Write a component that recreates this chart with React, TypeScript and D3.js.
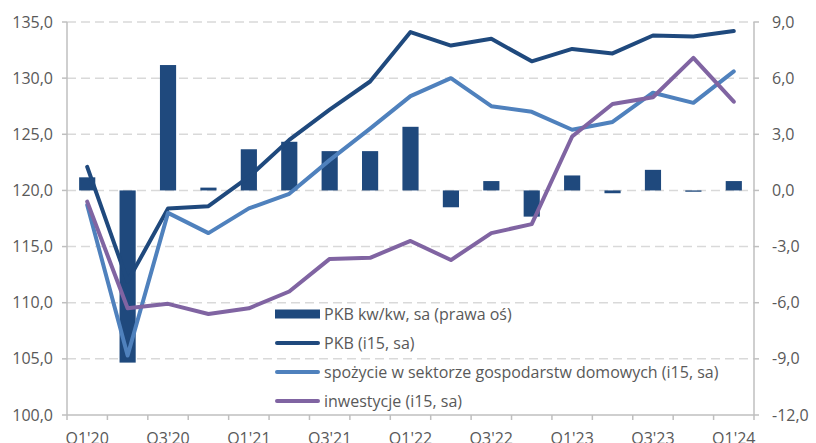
import React from "react";
import * as d3 from "d3";

const categories = ["Q1'20","Q2'20","Q3'20","Q4'20","Q1'21","Q2'21","Q3'21","Q4'21","Q1'22","Q2'22","Q3'22","Q4'22","Q1'23","Q2'23","Q3'23","Q4'23","Q1'24"];
const gdpQoQ = [0.7, -9.2, 6.7, 0.15, 2.2, 2.6, 2.1, 2.1, 3.4, -0.9, 0.5, -1.4, 0.8, -0.15, 1.1, -0.07, 0.5];
const gdpIndex = [122.1, 111.9, 118.4, 118.6, 121.2, 124.5, 127.2, 129.7, 134.1, 132.9, 133.5, 131.5, 132.6, 132.2, 133.8, 133.7, 134.2];
const consumption = [118.7, 105.3, 118.0, 116.2, 118.4, 119.7, 122.7, 125.5, 128.4, 130.0, 127.5, 127.0, 125.4, 126.1, 128.7, 127.8, 130.6];
const investment = [119.0, 109.5, 109.9, 109.0, 109.5, 111.0, 113.9, 114.0, 115.5, 113.8, 116.2, 117.0, 124.8, 127.7, 128.3, 131.8, 127.9];
const leftTicks = [100, 105, 110, 115, 120, 125, 130, 135];
const rightTicks = [-12, -9, -6, -3, 0, 3, 6, 9];
const legendLabels = ["PKB kw/kw, sa (prawa oś)", "PKB (i15, sa)", "spożycie w sektorze gospodarstw domowych (i15, sa)", "inwestycje (i15, sa)"];

const W = 816, H = 443;
const X0 = 67, X1 = 754, Y0 = 22, Y1 = 415;
const FONT = "'Open Sans', sans-serif";
const TXT = "#595959";
const C_BAR = "#1f497d";
const C_GDP = "#1f497d";
const C_CONS = "#4f81bd";
const C_INV = "#8064a2";

const fmt = (v: number) => v.toFixed(1).replace(".", ",");

export default function App() {
  const x = d3.scaleBand<string>().domain(categories).range([X0, X1]).paddingInner(0).paddingOuter(0);
  const yL = d3.scaleLinear().domain([100, 135]).range([Y1, Y0]);
  const yR = d3.scaleLinear().domain([-12, 9]).range([Y1, Y0]);
  const bw = x.bandwidth();
  const cx = (i: number) => (x(categories[i]) as number) + bw / 2;
  const line = d3.line<number>().x((_, i) => cx(i)).y((d) => yL(d));
  const barW = bw * 0.4;

  const series = [
    { data: gdpIndex, color: C_GDP },
    { data: consumption, color: C_CONS },
    { data: investment, color: C_INV },
  ];

  const boundaries = d3.range(categories.length + 1).map((i) => X0 + i * bw);

  const legendY = [314, 343, 372, 401];
  const legendColors = [C_BAR, C_GDP, C_CONS, C_INV];

  return (
    <svg width={W} height={H} style={{ display: "block", position: "absolute", left: 0, top: 0 }} fontFamily={FONT}>
      <rect width={W} height={H} fill="#fff" />
      {/* gridlines */}
      {leftTicks.filter((t) => t !== 100).map((t) => (
        <line key={t} x1={X0} x2={X1} y1={yL(t)} y2={yL(t)} stroke="#d9d9d9" strokeWidth={1.5} strokeDasharray="9,5" />
      ))}
      {/* bars */}
      {gdpQoQ.map((v, i) => (
        <rect key={i} x={cx(i) - barW / 2} width={barW} y={Math.min(yR(v), yR(0))} height={Math.abs(yR(v) - yR(0))} fill={C_BAR} />
      ))}
      {/* axes */}
      <line x1={X0} x2={X0} y1={Y0} y2={Y1} stroke="#bfbfbf" strokeWidth={1.5} />
      <line x1={X1} x2={X1} y1={Y0} y2={Y1} stroke="#bfbfbf" strokeWidth={1.5} />
      <line x1={X0} x2={X1} y1={Y1} y2={Y1} stroke="#bfbfbf" strokeWidth={1.5} />
      {leftTicks.map((t) => (
        <line key={"lt" + t} x1={X0 - 5} x2={X0} y1={yL(t)} y2={yL(t)} stroke="#bfbfbf" strokeWidth={1.5} />
      ))}
      {rightTicks.map((t) => (
        <line key={"rt" + t} x1={X1} x2={X1 + 5} y1={yR(t)} y2={yR(t)} stroke="#bfbfbf" strokeWidth={1.5} />
      ))}
      {boundaries.map((bx, i) => (
        <line key={"bt" + i} x1={bx} x2={bx} y1={Y1} y2={Y1 + 5} stroke="#bfbfbf" strokeWidth={1.5} />
      ))}
      {/* lines */}
      {series.map((s, k) => (
        <path key={k} d={line(s.data) as string} fill="none" stroke={s.color} strokeWidth={4} strokeLinejoin="round" strokeLinecap="round" />
      ))}
      {/* axis labels */}
      {leftTicks.map((t) => (
        <text key={"ll" + t} x={53} y={yL(t)} dy="0.35em" textAnchor="end" fontSize={16} fill={TXT}>{fmt(t)}</text>
      ))}
      {rightTicks.map((t) => (
        <text key={"rl" + t} x={772} y={yR(t)} dy="0.35em" textAnchor="start" fontSize={16} fill={TXT}>{fmt(t)}</text>
      ))}
      {categories.map((c, i) => i % 2 === 0 ? (
        <text key={"xl" + c} x={cx(i)} y={444} textAnchor="middle" fontSize={16} fill={TXT}>{c}</text>
      ) : null)}
      {/* legend */}
      {legendLabels.map((lab, i) => (
        <g key={"lg" + i}>
          {i === 0 ? (
            <rect x={275} y={legendY[i] - 4.5} width={45} height={9} fill={legendColors[i]} />
          ) : (
            <line x1={277} x2={318} y1={legendY[i]} y2={legendY[i]} stroke={legendColors[i]} strokeWidth={4} strokeLinecap="round" />
          )}
          <text x={324} y={legendY[i]} dy="0.35em" fontSize={16} fill={TXT}>{lab}</text>
        </g>
      ))}
    </svg>
  );
}
